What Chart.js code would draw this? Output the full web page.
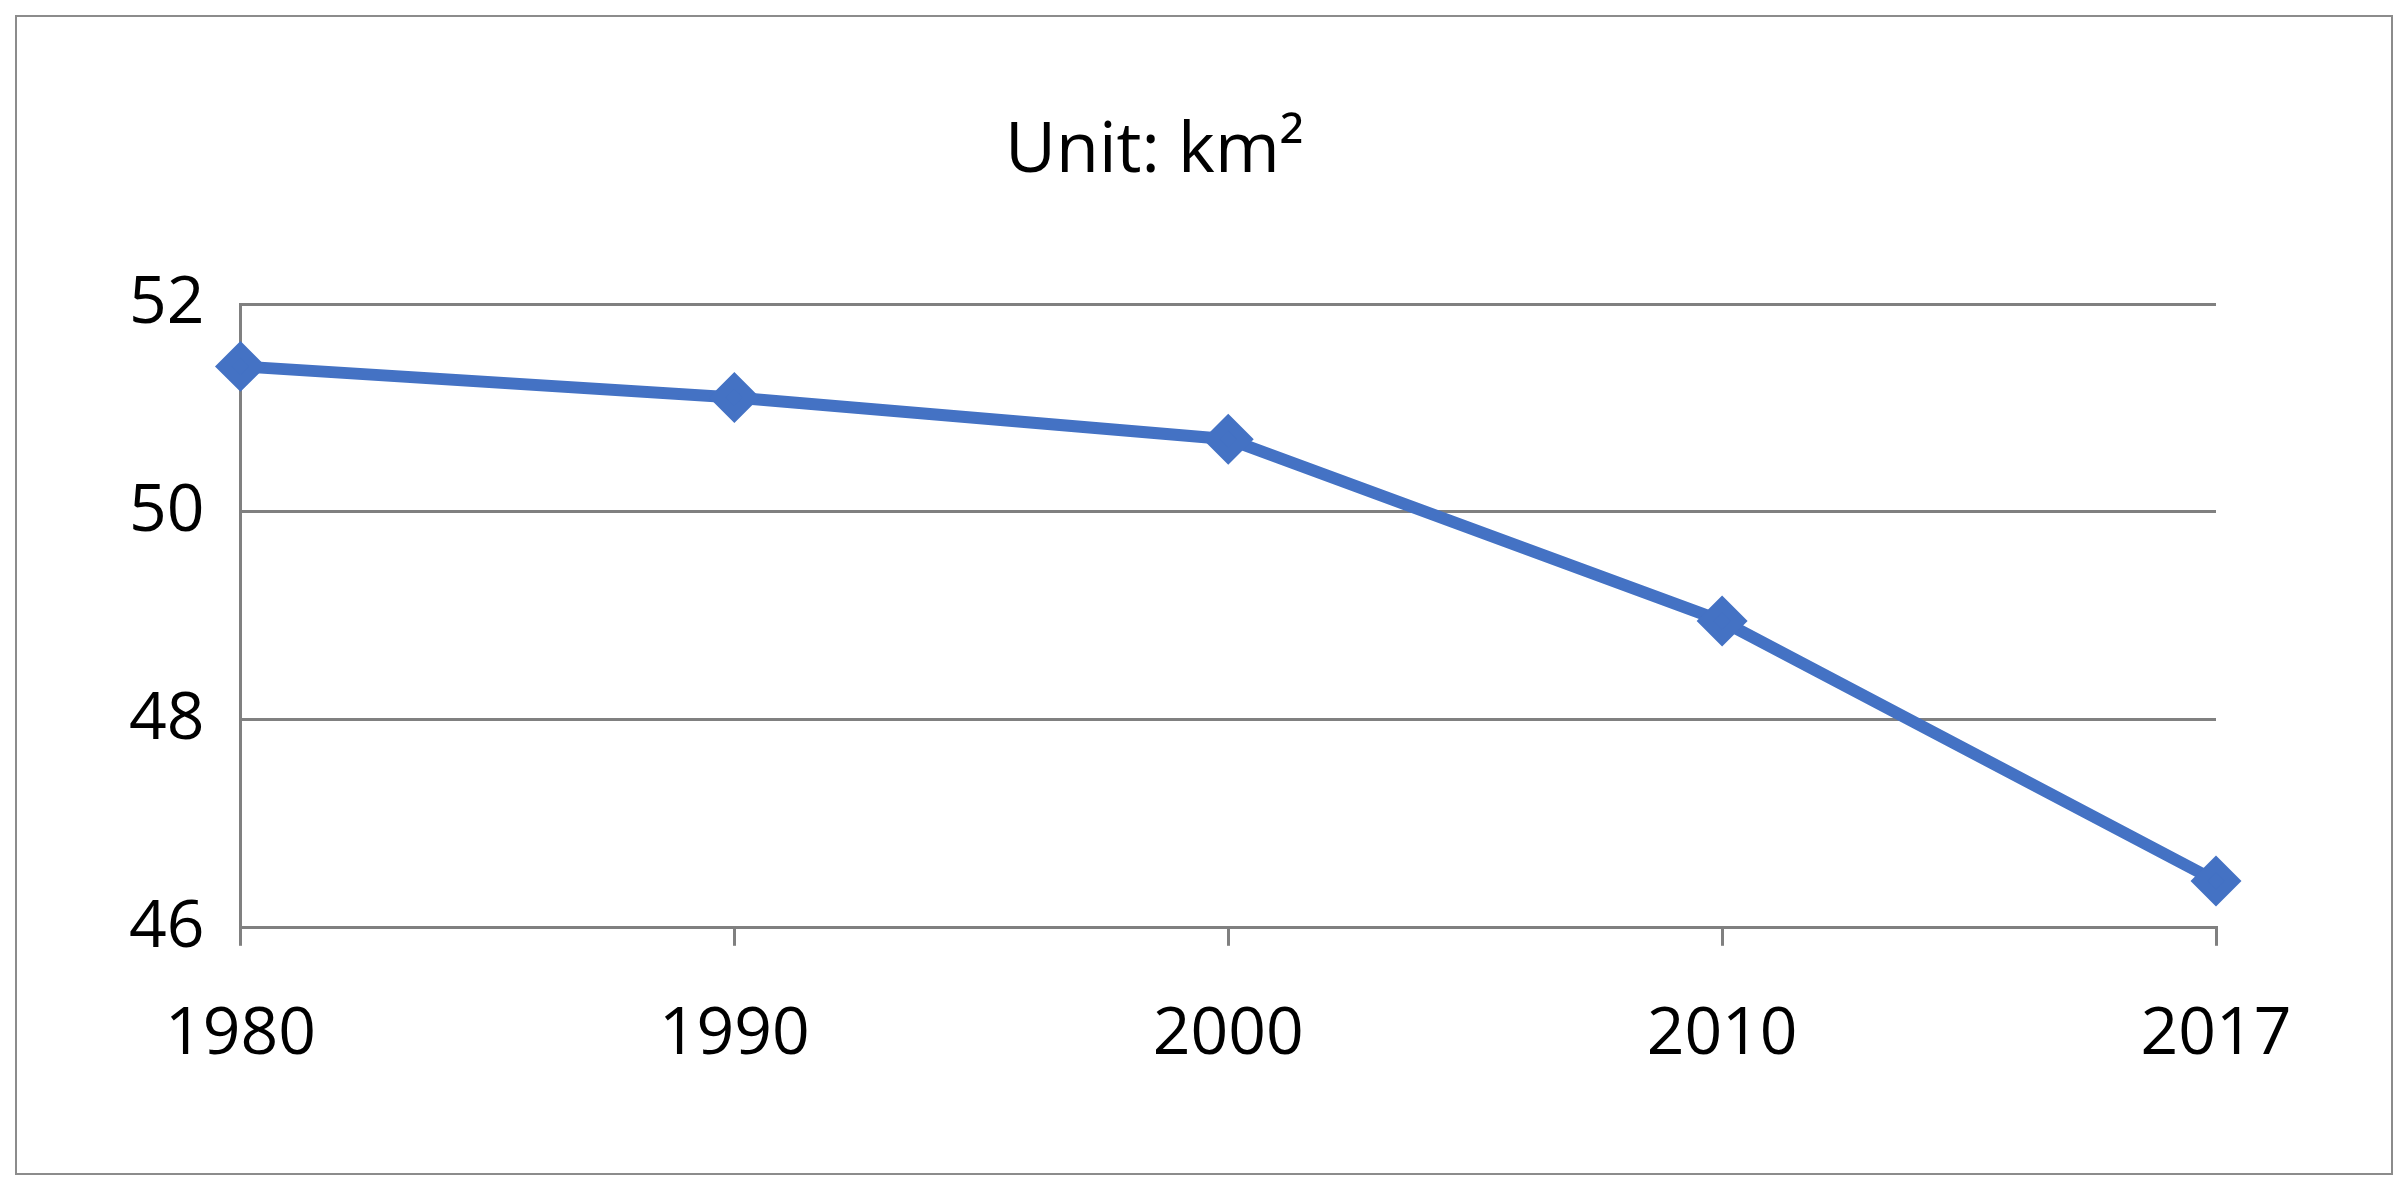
<!DOCTYPE html>
<html>
<head>
<meta charset="utf-8">
<script src="https://cdn.jsdelivr.net/npm/chart.js@4/dist/chart.umd.min.js"></script>
<style>
  html, body { margin: 0; padding: 0; background: #fff; }
  #frame { position: absolute; left: 15px; top: 15px; width: 2374px; height: 1156px; border: 2px solid #8c8c8c; }
  #chart-box { position: absolute; left: 0; top: 0; width: 2408px; height: 1197px; }
</style>
</head>
<body>
<div id="frame"></div>
<div id="chart-box"><canvas id="area-chart"></canvas></div>
<script>
const years = ['1980', '1990', '2000', '2010', '2017'];
const areaValues = [51.4, 51.1, 50.7, 48.95, 46.45];
const yTicks = [46, 48, 50, 52];

const fontFamily = "'Open Sans', 'Noto Sans', sans-serif";
const ctx = document.getElementById('area-chart').getContext('2d');

const areaChart = new Chart(ctx, {
    type: 'line',
    data: {
        labels: years,
        datasets: [{
            label: 'Area',
            data: areaValues,
            borderColor: '#4472C4',
            backgroundColor: '#4472C4',
            borderWidth: 12,
            pointStyle: 'rectRot',
            pointRadius: 17,
            pointBackgroundColor: '#4472C4',
            pointBorderColor: '#4472C4',
            tension: 0
        }]
    },
    options: {
        responsive: true,
        maintainAspectRatio: false,
        animation: false,
        layout: { padding: { left: 93, right: 192, top: 70, bottom: 72 } },
        scales: {
            x: {
                offset: false,
                grid: { drawOnChartArea: false, drawTicks: true, tickLength: 18, color: '#808080', lineWidth: 3 },
                border: { display: true, color: '#808080', width: 3 },
                ticks: { color: '#000', font: { family: fontFamily, size: 66 }, padding: 50 }
            },
            y: {
                min: 46,
                max: 52,
                afterBuildTicks: function(axis) { axis.ticks = yTicks.map(v => ({ value: v })); },
                grid: { color: '#808080', lineWidth: 3, drawTicks: false },
                border: { display: true, color: '#808080', width: 3 },
                ticks: { color: '#000', font: { family: fontFamily, size: 66 }, padding: 36 }
            }
        },
        plugins: {
            legend: { display: false },
            tooltip: { enabled: false },
            title: {
                display: true,
                text: 'Unit: km²',
                color: '#000',
                font: { family: fontFamily, size: 70, weight: 'normal' },
                padding: { top: 40, bottom: 110 }
            }
        }
    }
});
</script>
</body>
</html>
